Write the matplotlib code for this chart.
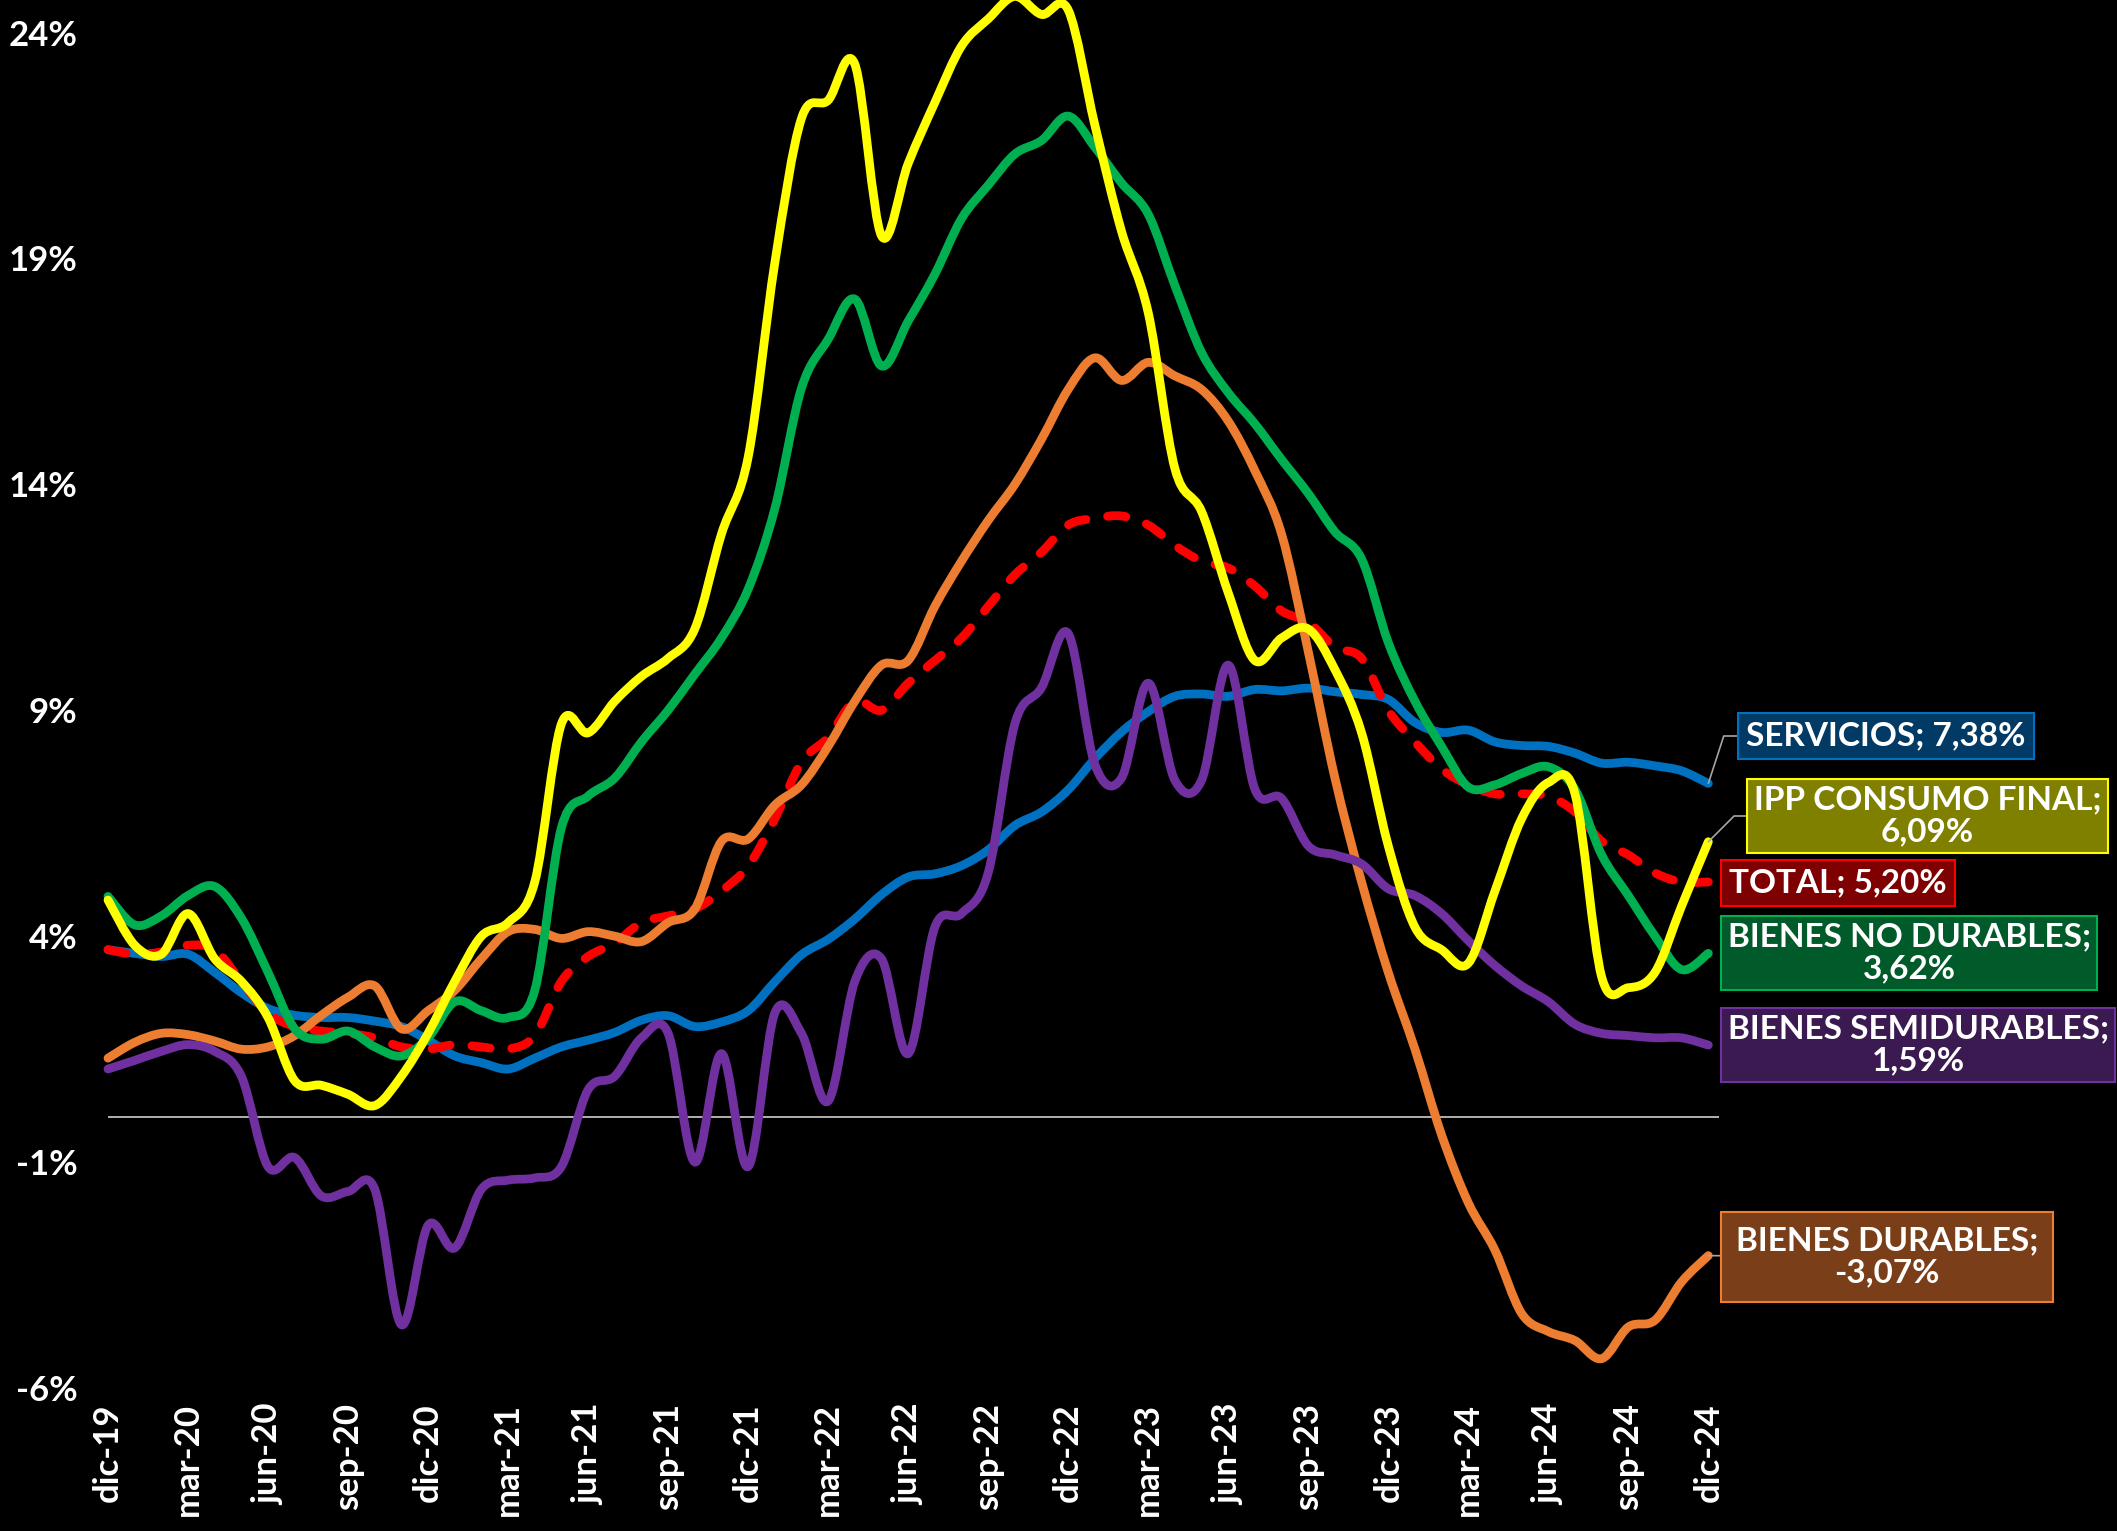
import numpy as np
import matplotlib.pyplot as plt
from matplotlib.path import Path
from matplotlib.patches import PathPatch

# monthly data, dic-19 .. dic-24 (61 months), annual variation in %
servicios = [3.70, 3.62, 3.55, 3.60, 3.20, 2.75, 2.40, 2.25, 2.20, 2.20,
             2.12, 2.00, 1.70, 1.35, 1.20, 1.06, 1.30, 1.55, 1.70, 1.87,
             2.14, 2.24, 2.00, 2.10, 2.35, 2.99, 3.59, 3.93, 4.38, 4.92,
             5.31, 5.38, 5.56, 5.91, 6.45, 6.75, 7.24, 7.93, 8.52, 8.97,
             9.31, 9.36, 9.31, 9.46, 9.43, 9.49, 9.41, 9.35, 9.24, 8.73,
             8.51, 8.56, 8.30, 8.22, 8.20, 8.05, 7.83, 7.85, 7.77, 7.66,
             7.38]
ipp_consumo = [4.80, 3.80, 3.60, 4.50, 3.50, 3.00, 2.20, 0.80, 0.70, 0.50,
               0.25, 0.90, 1.85, 3.00, 4.00, 4.30, 5.20, 8.70, 8.50, 9.20,
               9.75, 10.15, 10.80, 12.90, 14.60, 18.90, 22.10, 22.50, 23.30, 19.50,
               21.10, 22.45, 23.70, 24.30, 24.80, 24.40, 24.50, 21.95, 19.60, 17.80,
               14.35, 13.40, 11.60, 10.10, 10.60, 10.80, 9.90, 8.50, 6.00, 4.20,
               3.70, 3.40, 5.00, 6.60, 7.40, 7.15, 3.10, 2.86, 3.20, 4.67,
               6.09]
total = [3.70, 3.60, 3.65, 3.80, 3.70, 3.00, 2.30, 2.00, 1.90, 1.85,
         1.75, 1.55, 1.50, 1.60, 1.55, 1.50, 1.80, 3.00, 3.55, 3.85,
         4.30, 4.45, 4.60, 5.00, 5.55, 6.60, 7.85, 8.40, 9.20, 9.00,
         9.60, 10.10, 10.60, 11.30, 12.00, 12.50, 13.10, 13.25, 13.30, 13.10,
         12.65, 12.30, 12.15, 11.75, 11.20, 10.95, 10.40, 10.15, 9.00, 8.30,
         7.70, 7.35, 7.15, 7.15, 7.10, 6.75, 6.10, 5.80, 5.40, 5.20,
         5.20]
no_durables = [4.88, 4.25, 4.45, 4.90, 5.10, 4.40, 3.20, 1.95, 1.72, 1.90,
               1.55, 1.35, 1.75, 2.55, 2.35, 2.20, 2.80, 6.40, 7.10, 7.50,
               8.30, 9.00, 9.80, 10.60, 11.68, 13.46, 16.13, 17.21, 18.10, 16.62,
               17.61, 18.65, 19.88, 20.62, 21.31, 21.61, 22.15, 21.46, 20.67, 19.98,
               18.40, 16.92, 16.03, 15.34, 14.55, 13.80, 12.95, 12.35, 10.50, 9.20,
               8.20, 7.30, 7.35, 7.60, 7.75, 7.25, 5.80, 4.90, 4.00, 3.26,
               3.62]
semidurables = [1.06, 1.25, 1.45, 1.60, 1.45, 0.90, -1.10, -0.90, -1.75, -1.65,
                -1.60, -4.60, -2.40, -2.90, -1.60, -1.40, -1.35, -1.10, 0.60, 0.90,
                1.75, 1.85, -1.00, 1.40, -1.10, 2.30, 1.85, 0.35, 3.00, 3.50,
                1.40, 4.20, 4.50, 5.40, 8.70, 9.50, 10.70, 7.80, 7.50, 9.60,
                7.45, 7.45, 10.00, 7.25, 7.05, 6.00, 5.80, 5.60, 5.05, 4.90,
                4.50, 3.90, 3.35, 2.90, 2.55, 2.05, 1.85, 1.80, 1.75, 1.75,
                1.59]
durables = [1.30, 1.65, 1.85, 1.82, 1.68, 1.50, 1.55, 1.80, 2.25, 2.65,
            2.90, 1.95, 2.35, 2.80, 3.50, 4.10, 4.15, 3.95, 4.10, 4.00,
            3.88, 4.30, 4.60, 6.10, 6.15, 6.90, 7.35, 8.20, 9.20, 10.00,
            10.10, 11.30, 12.30, 13.20, 14.00, 15.00, 16.10, 16.80, 16.30, 16.70,
            16.40, 16.10, 15.40, 14.30, 12.90, 10.30, 7.50, 5.20, 3.20, 1.50,
            -0.40, -1.90, -2.95, -4.35, -4.75, -4.95, -5.35, -4.65, -4.50, -3.65,
            -3.07]

tick_labels = ['dic-19', 'mar-20', 'jun-20', 'sep-20', 'dic-20', 'mar-21', 'jun-21',
               'sep-21', 'dic-21', 'mar-22', 'jun-22', 'sep-22', 'dic-22', 'mar-23',
               'jun-23', 'sep-23', 'dic-23', 'mar-24', 'jun-24', 'sep-24', 'dic-24']
y_ticks = [-6, -1, 4, 9, 14, 19, 24]


def smooth_path(xs, ys):
    # smoothed line through the points (like Excel "smoothed line")
    pts = np.column_stack([xs, ys]).astype(float)
    n = len(pts)
    verts = [pts[0]]
    codes = [Path.MOVETO]
    for i in range(n - 1):
        p0 = pts[max(i - 1, 0)]
        p1 = pts[i]
        p2 = pts[i + 1]
        p3 = pts[min(i + 2, n - 1)]
        verts += [p1 + (p2 - p0) / 6, p2 - (p3 - p1) / 6, p2]
        codes += [Path.CURVE4] * 3
    return Path(verts, codes)


W, H = 2117, 1531
fig = plt.figure(figsize=(W / 100, H / 100), dpi=100, facecolor='black')
ax = fig.add_axes([108 / W, 143 / H, 1611 / W, 1388 / H])
ax.set_facecolor('black')

x = np.arange(len(servicios))
ax.set_xlim(0, 60.4)
ax.set_ylim(-6, 24.72)

ax.axhline(0, color='#BFBFBF', lw=1.3, zorder=1)

series = [
    (servicios, '#0070C0', '-', 2),
    (total, '#FF0000', (0, (2.1, 2.5)), 3),
    (durables, '#ED7D31', '-', 4),
    (semidurables, '#7030A0', '-', 5),
    (no_durables, '#00B050', '-', 6),
    (ipp_consumo, '#FFFF00', '-', 7),
]
for vals, col, ls, z in series:
    patch = PathPatch(smooth_path(x, vals), facecolor='none', edgecolor=col,
                      lw=6.3, linestyle=ls, capstyle='round', joinstyle='round',
                      zorder=z, clip_on=False)
    ax.add_patch(patch)

# axes styling
for s in ax.spines.values():
    s.set_visible(False)
ax.set_yticks(y_ticks)
ax.set_yticklabels([f'{v}%' for v in y_ticks])
ax.set_xticks(np.arange(0, 61, 3))
ax.set_xticklabels(tick_labels, rotation=90)
ax.tick_params(axis='y', length=0, pad=22, colors='white')
ax.tick_params(axis='x', length=0, pad=11, colors='white')
for lab in ax.get_yticklabels():
    lab.set_family(['Lato', 'DejaVu Sans'])
    lab.set_fontweight('bold')
    lab.set_fontsize(25)
for lab in ax.get_xticklabels():
    lab.set_family(['Lato', 'DejaVu Sans'])
    lab.set_fontweight('bold')
    lab.set_fontsize(25)

# end labels: (text, last value, box left px, box centre px from top, face, edge, pad, leader angle)
labels = [
    ('SERVICIOS; {}', servicios[-1], 1737, 736, '#023A66', '#0070C0', 0.25, 72),
    ('IPP CONSUMO FINAL;\n{}', ipp_consumo[-1], 1746, 816, '#808000', '#FFFF00', 0.2, 45),
    ('TOTAL; {}', total[-1], 1720, 883, '#7F0000', '#FF0000', 0.25, None),
    ('BIENES NO DURABLES;\n{}', no_durables[-1], 1720, 953, '#005A2A', '#00B050', 0.2, None),
    ('BIENES SEMIDURABLES;\n{}', semidurables[-1], 1720, 1045, '#3A1A50', '#7030A0', 0.2, None),
    ('BIENES DURABLES;\n{}', durables[-1], 1720, 1257, '#7A3F18', '#ED7D31', 0.45, 0),
]
fs = 24
for txt, val, left, cy, face, edge, pad, ang in labels:
    s = txt.format(f'{val:.2f}%'.replace('.', ','))
    pad_px = pad * fs * 100 / 72
    kw = {}
    if ang is not None:
        kw['arrowprops'] = dict(arrowstyle='-', color='#A6A6A6', lw=1.2,
                                shrinkA=0, shrinkB=0,
                                connectionstyle=f'angle,angleA=0,angleB={ang},rad=0'
                                if ang else 'arc3')
    ax.annotate(s, xy=(60, val), xycoords='data',
                xytext=(left + pad_px + 1, H - cy), textcoords='figure pixels',
                ha='left', va='center', multialignment='center', linespacing=1.1,
                color='white', fontsize=fs, fontweight='bold',
                family=['Lato', 'DejaVu Sans'], zorder=10, annotation_clip=False,
                bbox=dict(boxstyle=f'square,pad={pad}', fc=face, ec=edge, lw=1.5),
                **kw)

fig.savefig('out.png', dpi=100, facecolor='black')
